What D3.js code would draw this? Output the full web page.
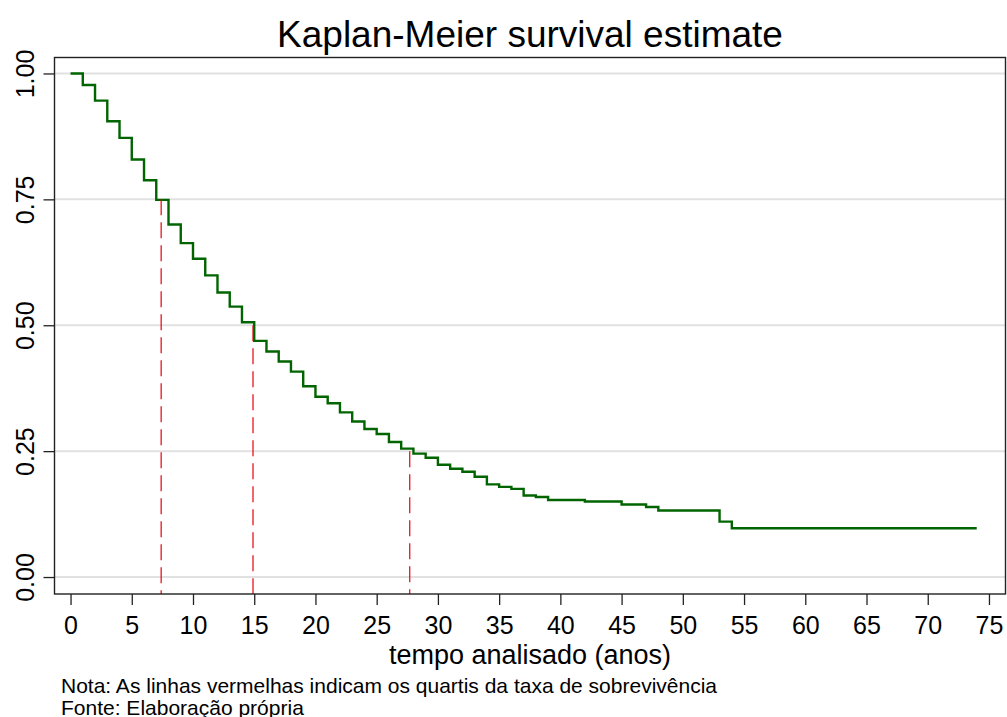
<!DOCTYPE html>
<html>
<head>
<meta charset="utf-8">
<script src="https://cdn.jsdelivr.net/npm/d3@7"></script>
<style>
  body { margin: 0; background: #fff; }
  svg { display: block; font-family: "Liberation Sans", Arial, sans-serif; }
</style>
</head>
<body>
<svg id="chart" width="1007" height="717"></svg>
<script>
// ---- data ----
const times = [0,1,2,3,4,5,6,7,8,9,10,11,12,13,14,15,16,17,18,19,20,21,22,23,24,25,26,27,28,29,30,31,32,33,34,35,36,37,38,39,42,45,47,48,53,54,74];
const survival = [1.000,0.977,0.946,0.905,0.872,0.829,0.788,0.749,0.700,0.663,0.632,0.599,0.565,0.537,0.506,0.469,0.448,0.428,0.408,0.379,0.358,0.345,0.327,0.309,0.294,0.284,0.268,0.255,0.245,0.237,0.223,0.215,0.209,0.199,0.184,0.179,0.175,0.162,0.159,0.153,0.150,0.144,0.139,0.132,0.110,0.097,0.097];
const quartileTimes = [7.4, 14.9, 27.7];
const quartileLevels = [0.75, 0.50, 0.25];
const xTicks = [0,5,10,15,20,25,30,35,40,45,50,55,60,65,70,75];
const yTicks = [0, 0.25, 0.5, 0.75, 1];
const yTickLabels = ["0.00","0.25","0.50","0.75","1.00"];
const titleText = "Kaplan-Meier survival estimate";
const xTitle = "tempo analisado (anos)";
const notes = ["Nota: As linhas vermelhas indicam os quartis da taxa de sobrevivência", "Fonte: Elaboração própria"];

// ---- layout ----
const plot = {left: 54.5, right: 1005.5, top: 57.5, bottom: 594};
const x = d3.scaleLinear().domain([-1.31, 76.35]).range([plot.left, plot.right]);
const y = d3.scaleLinear().domain([-0.0337, 1.0317]).range([plot.bottom, plot.top]);

const svg = d3.select("#chart");

// gridlines
svg.append("g").selectAll("line").data(yTicks).join("line")
  .attr("x1", plot.left).attr("x2", plot.right)
  .attr("y1", d => y(d)).attr("y2", d => y(d))
  .attr("stroke", "#e1e1e1").attr("stroke-width", 2);

// KM step curve
const pts = times.map((t, i) => [t, survival[i]]);
const line = d3.line().x(d => x(d[0])).y(d => y(d[1])).curve(d3.curveStepAfter);
svg.append("path").datum(pts)
  .attr("d", line)
  .attr("fill", "none")
  .attr("stroke", "#006400")
  .attr("stroke-width", 2.4)
  .attr("stroke-linejoin", "miter");

// quartile lines
svg.append("g").selectAll("line").data(quartileTimes).join("line")
  .attr("x1", d => x(d)).attr("x2", d => x(d))
  .attr("y1", (d, i) => y(quartileLevels[i])).attr("y2", plot.bottom)
  .attr("stroke", "#e8000b").attr("stroke-width", 1.2)
  .attr("stroke-dasharray", "16,7");

// frame
svg.append("rect")
  .attr("x", plot.left).attr("y", plot.top)
  .attr("width", plot.right - plot.left).attr("height", plot.bottom - plot.top)
  .attr("fill", "none").attr("stroke", "#222").attr("stroke-width", 1.4);

// x axis
const xAxis = d3.axisBottom(x).tickValues(xTicks).tickSize(11).tickPadding(8).tickFormat(d3.format("d"));
const gx = svg.append("g").attr("transform", `translate(0,${plot.bottom})`).call(xAxis);
gx.select(".domain").remove();
gx.attr("font-size", 25).attr("font-family", "Liberation Sans, Arial, sans-serif");
gx.selectAll(".tick line").attr("stroke", "#222").attr("stroke-width", 1.3);
gx.selectAll(".tick text").attr("font-size", 25).attr("fill", "#000").attr("y", 22).attr("dy", "0.71em");

// y axis
const yAxis = d3.axisLeft(y).tickValues(yTicks).tickSize(11).tickFormat((d, i) => yTickLabels[i]);
const gy = svg.append("g").attr("transform", `translate(${plot.left},0)`).call(yAxis);
gy.select(".domain").remove();
gy.attr("font-size", 25).attr("font-family", "Liberation Sans, Arial, sans-serif");
gy.selectAll(".tick line").attr("stroke", "#222").attr("stroke-width", 1.3);
gy.selectAll(".tick text")
  .attr("font-size", 25).attr("fill", "#000")
  .attr("text-anchor", "middle")
  .attr("x", 0).attr("dy", "0em")
  .attr("transform", "translate(-21,0) rotate(-90)");

// title
svg.append("text").attr("x", 530).attr("y", 47)
  .attr("text-anchor", "middle").attr("font-size", 37).attr("fill", "#000")
  .text(titleText);

// x axis title
svg.append("text").attr("x", 530).attr("y", 664)
  .attr("text-anchor", "middle").attr("font-size", 27).attr("fill", "#000")
  .text(xTitle);

// notes
svg.append("g").selectAll("text").data(notes).join("text")
  .attr("x", 61).attr("y", (d, i) => 693 + i * 21.5)
  .attr("font-size", 21).attr("fill", "#000")
  .text(d => d);
</script>
</body>
</html>
